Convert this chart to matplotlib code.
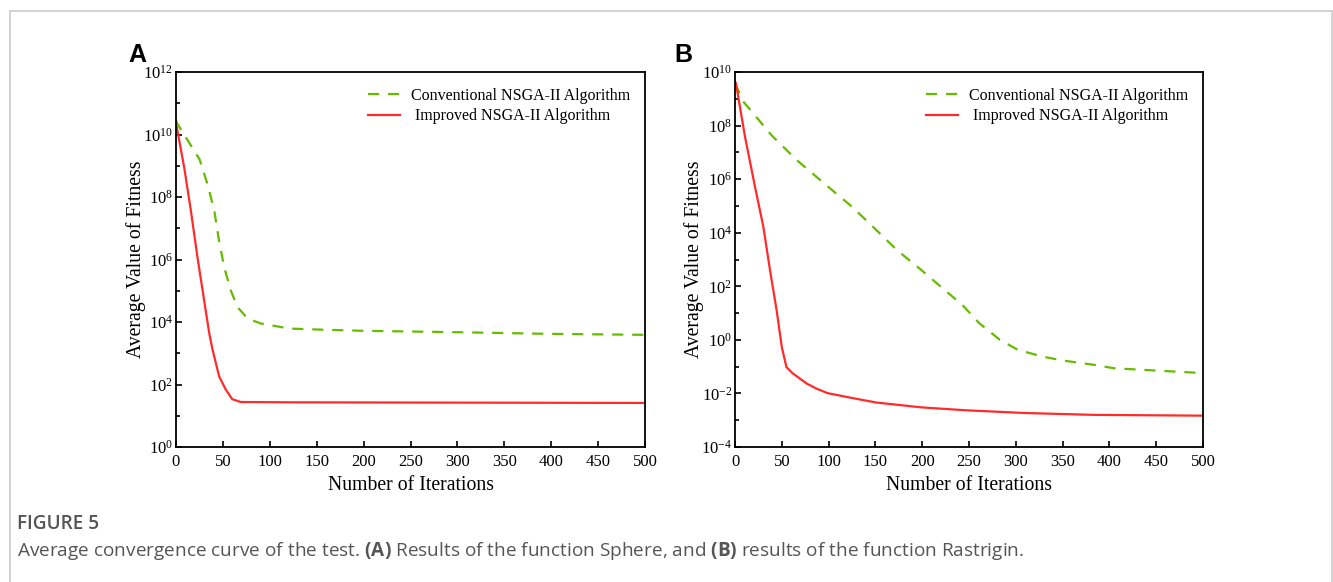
import numpy as np
import matplotlib
matplotlib.use("Agg")
import matplotlib.pyplot as plt
from matplotlib.patches import Rectangle
from matplotlib.ticker import FixedLocator, NullFormatter

plt.rcParams["font.family"] = ["Liberation Serif", "DejaVu Serif"]
plt.rcParams["mathtext.fontset"] = "custom"
plt.rcParams["mathtext.rm"] = "Liberation Serif"
plt.rcParams["mathtext.it"] = "Liberation Serif:italic"
plt.rcParams["mathtext.bf"] = "Open Sans:bold"

# Panel A - Sphere (iteration, log10 of fitness)
a_conv_x = [0, 1, 14, 25, 34, 41, 46, 51.5, 58.5, 65.7, 76.4, 90.6, 121, 160, 197, 307, 399, 500]
a_conv_y = [10.46, 10.37, 9.74, 9.21, 8.37, 7.53, 6.58, 5.74, 5.0, 4.47, 4.11, 3.95, 3.79, 3.75, 3.72, 3.67, 3.62, 3.59]
a_impr_x = [0, 1, 9, 16, 23, 30, 35.5, 39, 46, 53, 60, 69, 122, 300, 500]
a_impr_y = [10.3, 10.21, 8.9, 7.53, 6.05, 4.69, 3.63, 3.11, 2.26, 1.84, 1.53, 1.44, 1.43, 1.42, 1.41]

# Panel B - Rastrigin
b_conv_x = [0, 9, 39, 66, 99.7, 125, 151, 173, 199, 224, 243, 261, 283, 302, 328, 350, 383, 405, 457, 500]
b_conv_y = [9.58, 8.89, 7.64, 6.71, 5.71, 4.97, 4.10, 3.35, 2.61, 1.86, 1.30, 0.62, 0.00, -0.37, -0.62, -0.77, -0.93, -1.06, -1.16, -1.24]
b_impr_x = [0, 1, 10.7, 21.4, 30.3, 37.4, 44.5, 50, 55, 62, 77, 87, 99, 125, 151, 199, 247, 309, 383, 500]
b_impr_y = [9.65, 9.58, 7.58, 5.71, 4.22, 2.60, 1.10, -0.27, -1.02, -1.26, -1.64, -1.82, -1.99, -2.17, -2.34, -2.52, -2.63, -2.73, -2.80, -2.83]

GREEN = "#66bb00"
RED = "#ff2a2a"

fig = plt.figure(figsize=(13.33, 5.82), dpi=100)

# light grey frame around the figure
fig.patches.append(Rectangle((10 / 1333, -0.1), 1322 / 1333, 1 - 11 / 582 + 0.1,
                             transform=fig.transFigure, fill=False,
                             edgecolor="#cccccc", linewidth=1.2))


def panel(rect, cx, cy, ix, iy, ylim, letter, letter_x):
    ax = fig.add_axes(rect)
    ax.plot(cx, 10 ** np.array(cy), ls=(0, (5, 4)), color=GREEN, lw=1.6,
            label="Conventional NSGA-II Algorithm")
    ax.plot(ix, 10 ** np.array(iy), color=RED, lw=1.6,
            label=" Improved NSGA-II Algorithm")
    ax.set_yscale("log")
    ax.set_xlim(0, 500)
    ax.set_ylim(10.0 ** ylim[0], 10.0 ** ylim[1])
    ax.set_xticks(range(0, 501, 50))
    ax.yaxis.set_major_locator(FixedLocator([10.0 ** e for e in range(ylim[0], ylim[1] + 1, 2)]))
    ax.yaxis.set_minor_locator(FixedLocator([10.0 ** e for e in range(ylim[0] + 1, ylim[1], 2)]))
    ax.yaxis.set_minor_formatter(NullFormatter())
    ax.tick_params(which="both", direction="in", labelsize=12, width=1.2)
    ax.tick_params(axis="x", pad=5)
    ax.tick_params(axis="y", pad=2)
    ax.tick_params(which="major", length=4)
    ax.tick_params(which="minor", length=3)
    for s in ax.spines.values():
        s.set_linewidth(1.3)
    ax.set_xlabel("Number of Iterations", fontsize=14.2, labelpad=4)
    ax.set_ylabel("Average Value of Fitness", fontsize=14.2, labelpad=-2)
    ax.legend(loc="upper right", frameon=False, fontsize=11.5, handlelength=2.0,
              handletextpad=0.7, bbox_to_anchor=(1.0, 0.997), labelspacing=0.3)
    fig.text(letter_x / 1333, 1 - 55 / 582, letter, fontsize=18, fontweight="bold",
             family="Liberation Sans", va="center", ha="center")
    return ax


panel([176 / 1333, 1 - 447 / 582, 469 / 1333, 375 / 582],
      a_conv_x, a_conv_y, a_impr_x, a_impr_y, (0, 12), "A", 137)
panel([735 / 1333, 1 - 447 / 582, 468 / 1333, 375 / 582],
      b_conv_x, b_conv_y, b_impr_x, b_impr_y, (-4, 10), "B", 683)

fig.text(17 / 1333, 1 - 524 / 582, "FIGURE 5", fontsize=13.7, color="#555555",
         family="Open Sans", fontweight="semibold", va="center")
fig.text(17 / 1333, 1 - 551 / 582,
         r"Average convergence curve of the test. $\mathbf{(A)}$ Results of the function Sphere, and $\mathbf{(B)}$ results of the function Rastrigin.",
         fontsize=13.7, color="#555555", family="Open Sans", va="center")

fig.savefig("out.png", dpi=100)
